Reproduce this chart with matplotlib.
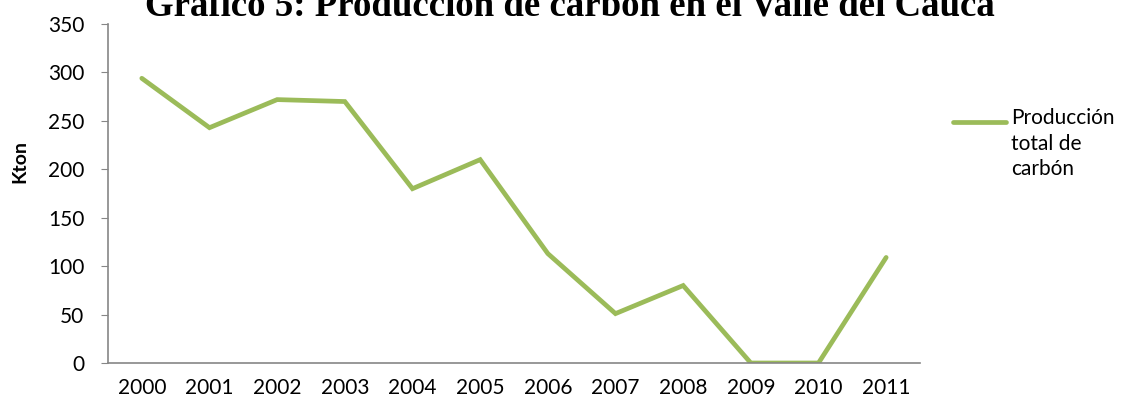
import matplotlib
matplotlib.use("Agg")
from matplotlib import pyplot as plt
from matplotlib.lines import Line2D

years = ["2000", "2001", "2002", "2003", "2004", "2005",
         "2006", "2007", "2008", "2009", "2010", "2011"]
produccion = [294, 243, 272, 270, 180, 210, 113, 51, 80, 0, 0, 109]
yticks = [0, 50, 100, 150, 200, 250, 300, 350]

plt.rcParams['font.family'] = ['Lato', 'DejaVu Sans']
verde = '#9BBB59'
W, H = 1133, 408

fig = plt.figure(figsize=(11.33, 4.08), dpi=100)
ax = fig.add_axes([0.0953, 0.1103, 0.7167, 0.8307])

x = list(range(len(years)))
ax.plot(x, produccion, color=verde, linewidth=3.4, solid_joinstyle='miter',
        solid_capstyle='round')

ax.set_xlim(-0.5, len(years) - 0.5)
ax.set_ylim(0, 350)
ax.set_yticks(yticks)
ax.set_xticks(x)
ax.set_xticklabels(years)
ax.tick_params(axis='x', length=0, labelsize=15, pad=11)
ax.tick_params(axis='y', length=5, color='#868686', labelsize=15, pad=12)

for s in ['top', 'right']:
    ax.spines[s].set_visible(False)
for s in ['left', 'bottom']:
    ax.spines[s].set_color('#868686')
    ax.spines[s].set_linewidth(1.2)

# eje y
fig.text(20 / W, 1 - 162 / H, 'Kton', rotation=90, ha='center', va='center',
         fontsize=14, fontweight='bold')

# titulo (cortado arriba como en la imagen)
fig.text(570 / W, 1 - 15 / H, 'Gráfico 5: Producción de carbón en el Valle del Cauca',
         ha='center', va='baseline', fontsize=26.6, fontweight='bold',
         family='Liberation Serif')

# leyenda
fig.add_artist(Line2D([953 / W, 1006 / W], [1 - 122 / H, 1 - 122 / H],
                      color=verde, linewidth=3.4, solid_capstyle='round',
                      transform=fig.transFigure))
fig.text(1011 / W, 1 - 108 / H, 'Producción\ntotal de\ncarbón', ha='left', va='top',
         fontsize=15, linespacing=1.35)

fig.savefig('out.png', dpi=100)
